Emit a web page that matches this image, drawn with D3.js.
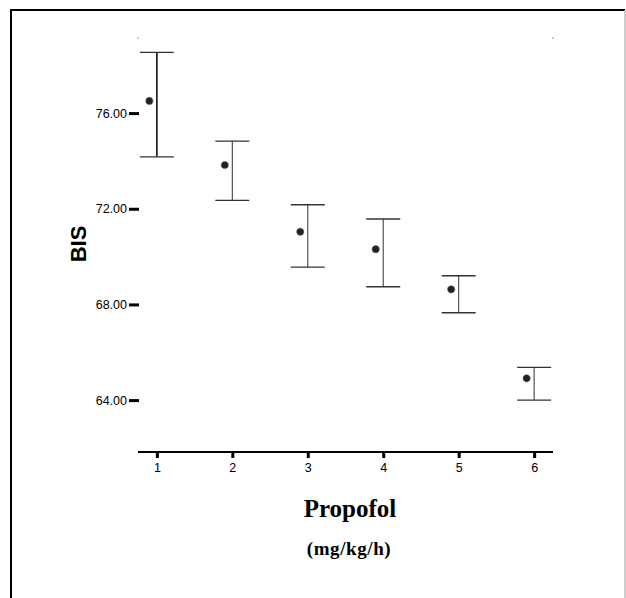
<!DOCTYPE html>
<html>
<head>
<meta charset="utf-8">
<script src="https://cdn.jsdelivr.net/npm/d3@7"></script>
<style>
  body { margin: 0; background: #fff; }
  svg { display: block; }
</style>
</head>
<body>
<div id="chart"></div>
<script>
// dose groups and BIS values (mean with upper / lower error limits)
const groups = [1, 2, 3, 4, 5, 6]
const means = [76.51, 73.83, 71.04, 70.31, 68.63, 64.91]
const upper = [78.54, 74.83, 72.17, 71.57, 69.20, 65.37]
const lower = [74.17, 72.35, 69.56, 68.74, 67.65, 64.00]
const yTicks = [64, 68, 72, 76]

const W = 626, H = 598

const svg = d3.select('#chart').append('svg')
  .attr('width', W)
  .attr('height', H)

// frame around the figure
svg.append('line').attr('x1', 11).attr('x2', 11).attr('y1', 10).attr('y2', H)
  .attr('stroke', '#000').attr('stroke-width', 2)
svg.append('line').attr('x1', 10).attr('x2', 625).attr('y1', 10).attr('y2', 10)
  .attr('stroke', '#000').attr('stroke-width', 2)
svg.append('line').attr('x1', 625).attr('x2', 625).attr('y1', 10).attr('y2', H)
  .attr('stroke', '#bbb').attr('stroke-width', 1.5)

// scales
const x = d3.scaleLinear().domain([0.75, 6.25]).range([138, 553])
const y = d3.scaleLinear().domain([61.83, 79.14]).range([452, 38])

// x axis
const xAxis = svg.append('g')
  .attr('transform', 'translate(0,452)')
  .call(d3.axisBottom(x).tickValues(groups).tickFormat(d3.format('d')).tickSize(6).tickPadding(5))
xAxis.select('.domain').attr('stroke', '#000').attr('stroke-width', 2)
  .attr('d', 'M138,0H553')
xAxis.selectAll('.tick line').attr('stroke', '#000').attr('stroke-width', 3)
xAxis.selectAll('.tick text')
  .attr('font-family', 'Liberation Sans, Arial, sans-serif')
  .attr('font-size', 12.5).attr('fill', '#000')

// y axis: only tick dashes and labels
const yAxis = svg.append('g')
  .attr('transform', 'translate(139,0)')
  .call(d3.axisLeft(y).tickValues(yTicks).tickFormat(d3.format('.2f')).tickSize(10).tickPadding(2))
yAxis.select('.domain').remove()
yAxis.selectAll('.tick line').attr('stroke', '#000').attr('stroke-width', 3)
yAxis.selectAll('.tick text')
  .attr('font-family', 'Liberation Sans, Arial, sans-serif')
  .attr('font-size', 12.5).attr('fill', '#000')

// small corner marks at the top of the plot area
svg.selectAll('.corner').data([138, 553]).enter().append('line')
  .attr('x1', d => d - 1).attr('x2', d => d + 1)
  .attr('y1', y(79.14)).attr('y2', y(79.14))
  .attr('stroke', '#999').attr('stroke-width', 1)

// error bars
const data = groups.map((g, i) => ({ g, m: means[i], hi: upper[i], lo: lower[i] }))
const capW = 17
const bars = svg.append('g').selectAll('g').data(data).enter().append('g')
bars.append('line')
  .attr('x1', d => x(d.g)).attr('x2', d => x(d.g))
  .attr('y1', d => y(d.hi)).attr('y2', d => y(d.lo))
  .attr('stroke', (d, i) => i === 0 ? '#111' : '#444')
  .attr('stroke-width', (d, i) => i === 0 ? 1.6 : 1.1)
bars.selectAll('.cap').data(d => [d.hi, d.lo].map(v => ({ g: d.g, v }))).enter().append('line')
  .attr('x1', d => x(d.g) - capW).attr('x2', d => x(d.g) + capW)
  .attr('y1', d => y(d.v)).attr('y2', d => y(d.v))
  .attr('stroke', '#333').attr('stroke-width', 1.4)

// mean markers, drawn just left of the bar
bars.append('circle')
  .attr('cx', d => x(d.g) - 7.5)
  .attr('cy', d => y(d.m))
  .attr('r', 3.6)
  .attr('fill', '#222')
  .attr('stroke', '#666').attr('stroke-width', 0.9)
  .attr('stroke-dasharray', '1.2,0.8')

// axis titles
svg.append('text')
  .attr('transform', 'translate(86,244) rotate(-90)')
  .attr('text-anchor', 'middle')
  .attr('font-family', 'Liberation Sans, Arial, sans-serif')
  .attr('font-weight', 'bold').attr('font-size', 22)
  .text('BIS')

svg.append('text')
  .attr('x', 350).attr('y', 517)
  .attr('text-anchor', 'middle')
  .attr('font-family', 'Liberation Serif, Times New Roman, serif')
  .attr('font-weight', 'bold').attr('font-size', 25)
  .text('Propofol')

svg.append('text')
  .attr('x', 349).attr('y', 555)
  .attr('text-anchor', 'middle')
  .attr('font-family', 'Liberation Serif, Times New Roman, serif')
  .attr('font-weight', 'bold').attr('font-size', 19)
  .attr('letter-spacing', 0.6)
  .text('(mg/kg/h)')
</script>
</body>
</html>
